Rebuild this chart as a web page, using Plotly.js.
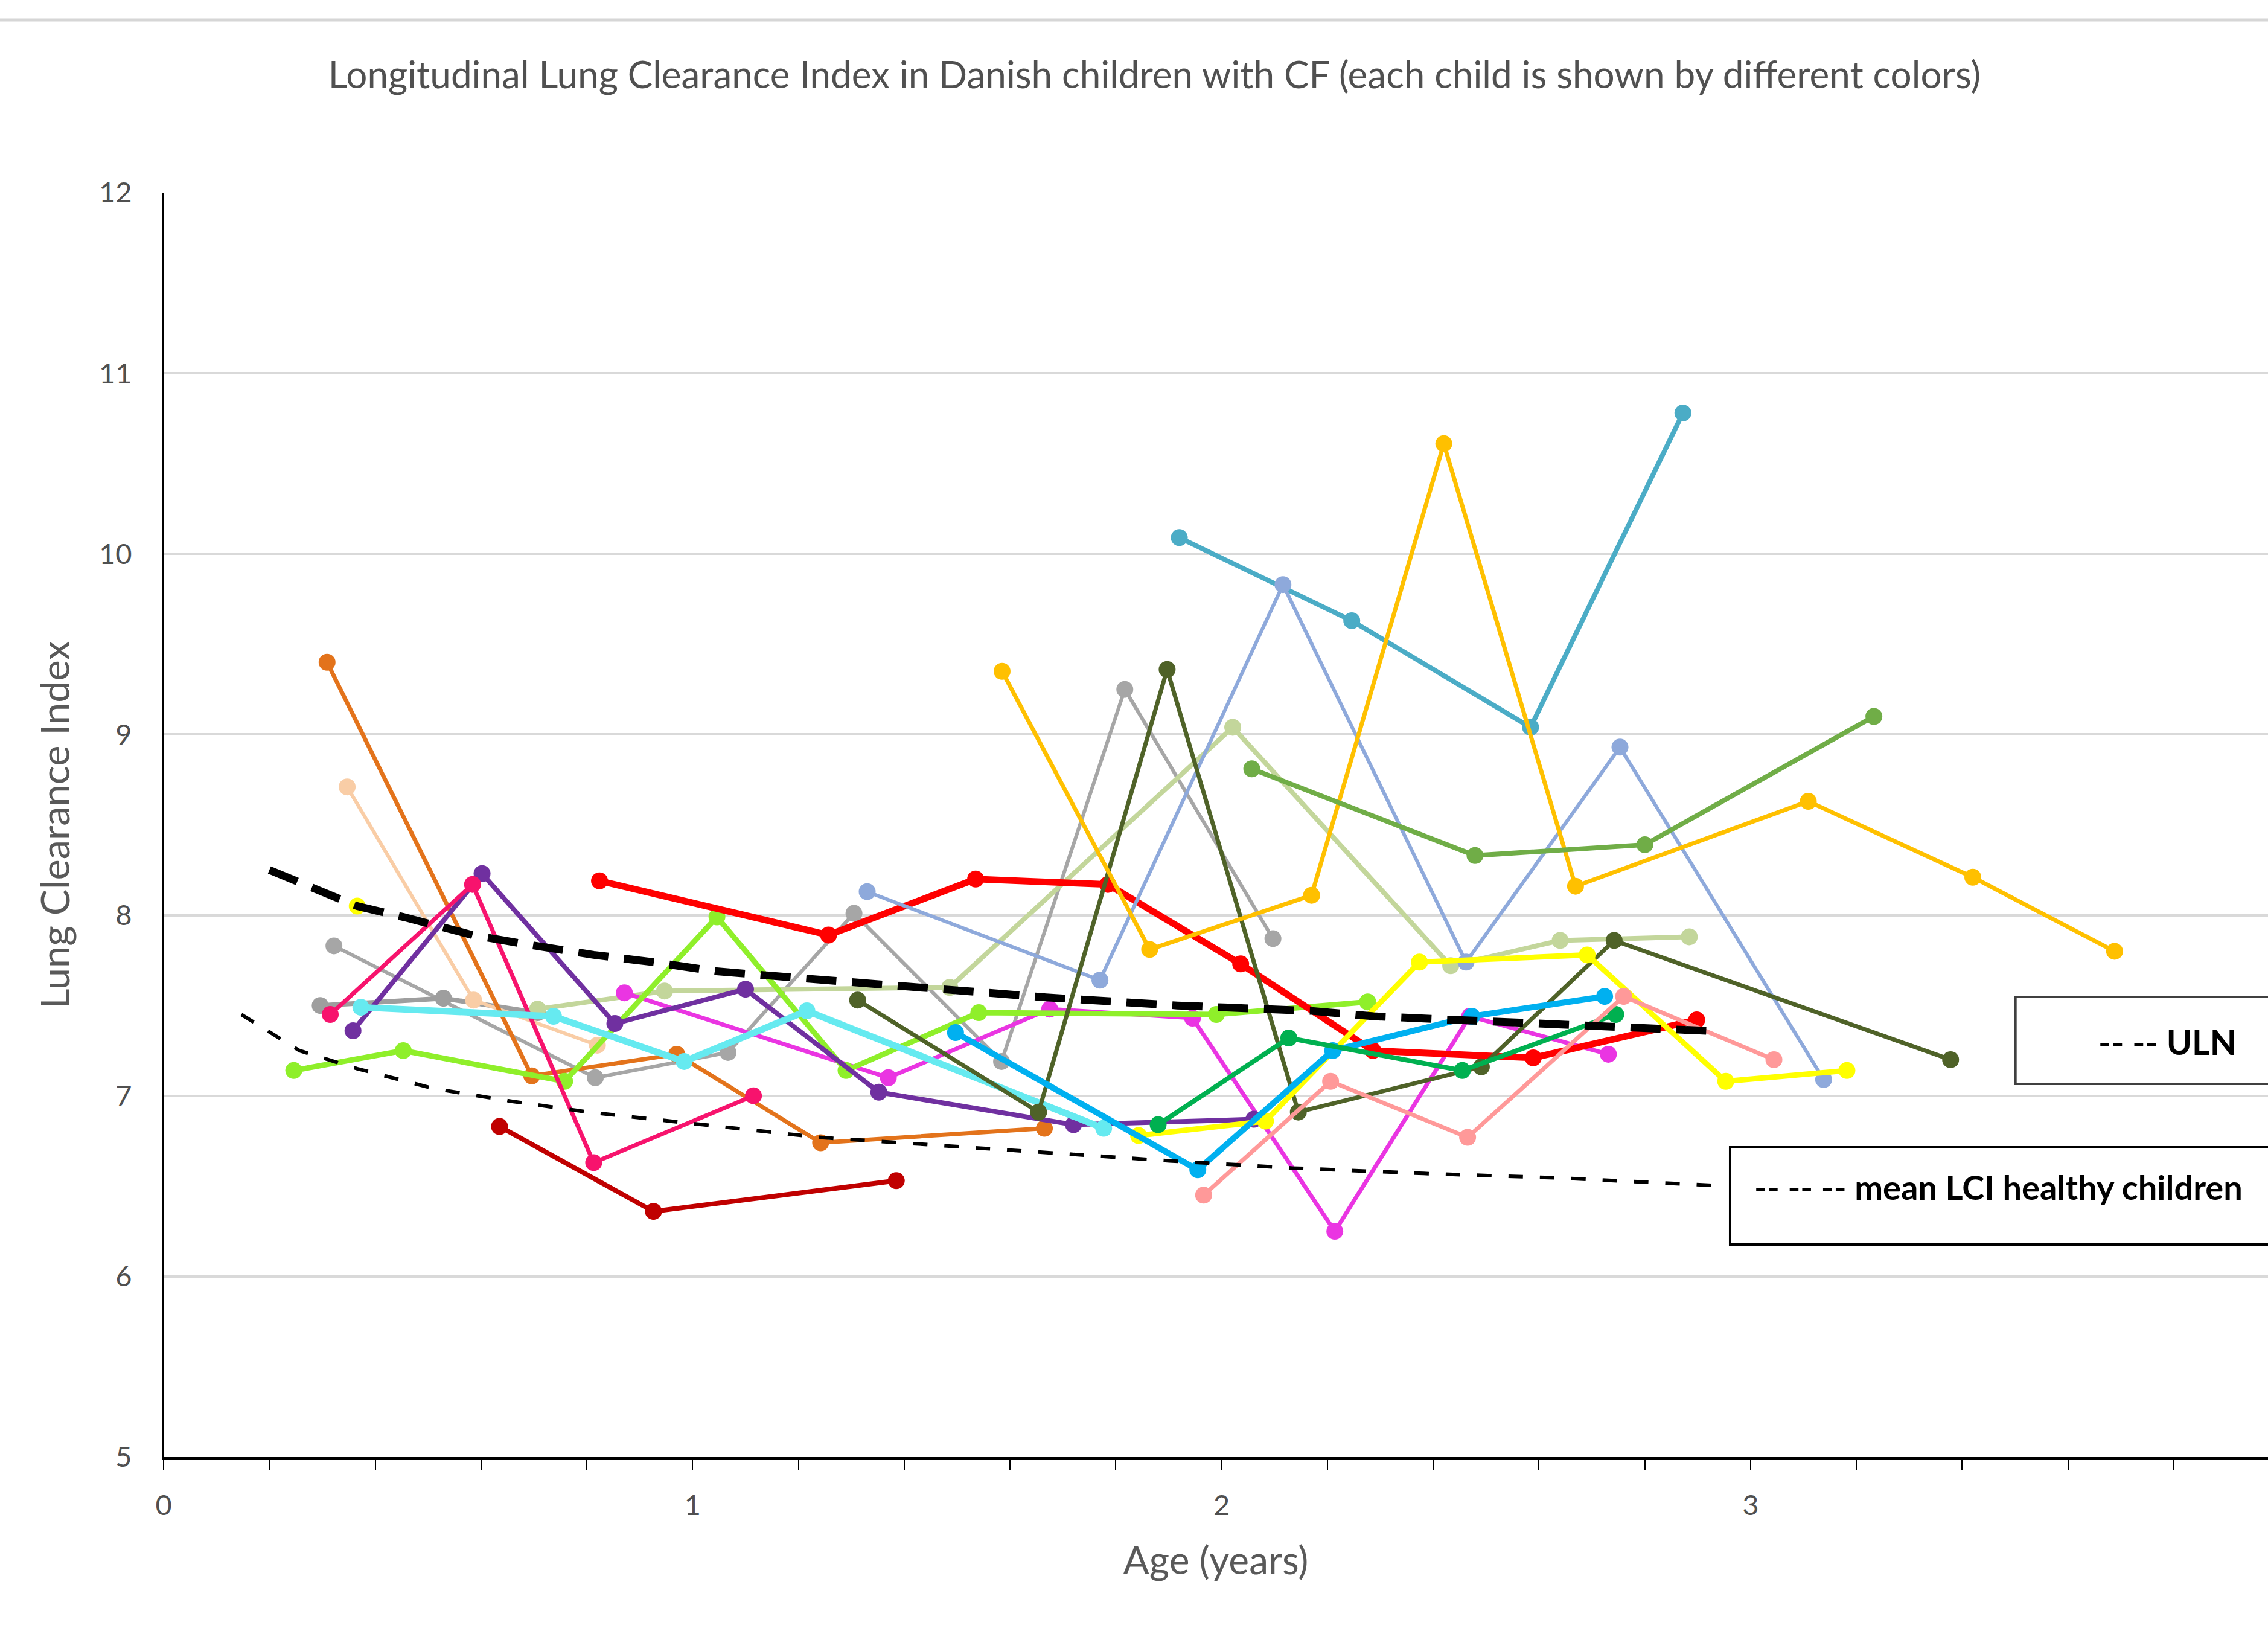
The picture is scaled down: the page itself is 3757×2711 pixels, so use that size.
<!DOCTYPE html>
<html><head><meta charset="utf-8">
<script src="https://cdn.plot.ly/plotly-3.0.1.min.js"></script>
<style>html,body{margin:0;padding:0;background:#fff;}#chart{width:3757px;height:2711px;}</style>
</head><body><div id="chart"></div>
<script>
// ---------- data (age in years, LCI) ----------
const xTickVals = [0, 1, 2, 3];
const yTickVals = [5, 6, 7, 8, 9, 10, 11, 12];

const child01Age = [0.322, 0.816, 1.067, 1.305, 1.584, 1.817, 2.097];
const child01LCI = [7.83, 7.10, 7.24, 8.01, 7.19, 9.25, 7.87];
const child02Age = [0.296, 0.529, 0.707];
const child02LCI = [7.50, 7.54, 7.46];
const child03Age = [0.347, 0.586, 0.820];
const child03LCI = [8.71, 7.53, 7.28];
const child04Age = [0.309, 0.696, 0.970, 1.242, 1.665];
const child04LCI = [9.40, 7.11, 7.23, 6.74, 6.82];
const child05Age = [0.707, 0.947, 1.486, 2.021, 2.433, 2.640, 2.884];
const child05LCI = [7.48, 7.58, 7.60, 9.04, 7.72, 7.86, 7.88];
const child06Age = [0.871, 1.370, 1.675, 1.945, 2.214, 2.469, 2.731];
const child06LCI = [7.57, 7.10, 7.48, 7.43, 6.25, 7.44, 7.23];
const child07Age = [0.246, 0.453, 0.758, 1.046, 1.290, 1.541, 1.990, 2.276];
const child07LCI = [7.14, 7.25, 7.08, 7.99, 7.14, 7.46, 7.45, 7.52];
const child08Age = [0.358, 0.602, 0.853, 1.100, 1.352, 1.720, 2.061];
const child08LCI = [7.36, 8.23, 7.40, 7.59, 7.02, 6.84, 6.87];
const child09Age = [0.315, 0.584, 0.813, 1.115];
const child09LCI = [7.45, 8.17, 6.63, 7.00];
const child10Age = [0.635, 0.926, 1.385];
const child10LCI = [6.83, 6.36, 6.53];
const child11Age = [0.373, 0.737, 0.984, 1.216, 1.777];
const child11LCI = [7.49, 7.44, 7.19, 7.47, 6.82];
const child12Age = [0.824, 1.257, 1.535, 1.785, 2.036, 2.286, 2.589, 2.898];
const child12LCI = [8.19, 7.89, 8.20, 8.17, 7.73, 7.25, 7.21, 7.42];
const child13Age = [1.920, 2.246, 2.584, 2.872];
const child13LCI = [10.09, 9.63, 9.04, 10.78];
const child14Age = [1.330, 1.770, 2.116, 2.462, 2.753, 3.138];
const child14LCI = [8.13, 7.64, 9.83, 7.74, 8.93, 7.09];
const child15Age = [1.312, 1.654, 1.897, 2.145, 2.491, 2.742, 3.378];
const child15LCI = [7.53, 6.91, 9.36, 6.91, 7.16, 7.86, 7.20];
const child16Age = [1.585, 1.864, 2.170, 2.420, 2.669, 3.109, 3.420, 3.688];
const child16LCI = [9.35, 7.81, 8.11, 10.61, 8.16, 8.63, 8.21, 7.80];
const child17Age = [2.057, 2.479, 2.800, 3.233];
const child17LCI = [8.81, 8.33, 8.39, 9.10];
const child18Age = [0.366];
const child18LCI = [8.05];
const child19Age = [1.843, 2.083, 2.374, 2.691, 2.953, 3.182];
const child19LCI = [6.78, 6.86, 7.74, 7.78, 7.08, 7.14];
const child20Age = [1.497, 1.955, 2.210, 2.473, 2.724];
const child20LCI = [7.35, 6.59, 7.25, 7.44, 7.55];
const child21Age = [1.880, 2.127, 2.455, 2.745];
const child21LCI = [6.84, 7.32, 7.14, 7.45];
const child22Age = [1.966, 2.206, 2.465, 2.760, 3.044];
const child22LCI = [6.45, 7.08, 6.77, 7.55, 7.20];

const ulnAge = [0.20, 0.366, 0.453, 0.584, 0.693, 0.813, 0.926, 1.042, 1.188, 1.421, 1.668, 1.916, 2.170, 2.287, 2.542, 2.789, 2.916];
const ulnLCI = [8.25, 8.05, 7.99, 7.89, 7.835, 7.78, 7.74, 7.69, 7.655, 7.60, 7.545, 7.50, 7.47, 7.44, 7.41, 7.38, 7.36];
const healthyAge = [0.147, 0.257, 0.366, 0.511, 0.657, 0.802, 1.020, 1.238, 1.392, 1.639, 1.901, 2.134, 2.382, 2.636, 2.891, 2.956];
const healthyLCI = [7.45, 7.25, 7.15, 7.04, 6.97, 6.91, 6.84, 6.77, 6.74, 6.69, 6.64, 6.60, 6.57, 6.545, 6.51, 6.50];

// ---------- styles ----------
const childSeries = [
  [child01Age, child01LCI, '#A6A6A6', 6],
  [child02Age, child02LCI, '#9E9E9E', 8],
  [child03Age, child03LCI, '#F9CDA6', 6],
  [child04Age, child04LCI, '#E3731B', 7],
  [child05Age, child05LCI, '#C3D69B', 8],
  [child06Age, child06LCI, '#EA35E2', 7],
  [child07Age, child07LCI, '#8FEF2A', 9],
  [child08Age, child08LCI, '#7030A0', 8],
  [child09Age, child09LCI, '#F7136D', 7],
  [child10Age, child10LCI, '#C00000', 8],
  [child11Age, child11LCI, '#66EAF0', 11],
  [child12Age, child12LCI, '#FF0000', 11],
  [child13Age, child13LCI, '#4BACC6', 8],
  [child14Age, child14LCI, '#8EA9DB', 6],
  [child15Age, child15LCI, '#4F6228', 7],
  [child16Age, child16LCI, '#FFC000', 7],
  [child17Age, child17LCI, '#70AD47', 8],
  [child18Age, child18LCI, '#FFFF00', 8],
  [child19Age, child19LCI, '#FFFF00', 9],
  [child20Age, child20LCI, '#00B0F0', 10],
  [child21Age, child21LCI, '#00B050', 8],
  [child22Age, child22LCI, '#FF9999', 7]
];

const traces = childSeries.map(s => ({
  x: s[0], y: s[1], type: 'scatter', mode: 'lines+markers',
  line: {color: s[2], width: s[3]},
  marker: {color: s[2], size: 28, symbol: 'circle'},
  hoverinfo: 'skip'
}));
traces.push({x: healthyAge, y: healthyLCI, type: 'scatter', mode: 'lines',
  line: {color: '#000000', width: 6, dash: '24px,28px'}, hoverinfo: 'skip'});
traces.push({x: ulnAge, y: ulnLCI, type: 'scatter', mode: 'lines',
  line: {color: '#000000', width: 13, dash: '50px,26px'}, hoverinfo: 'skip'});

const FONT = 'Lato, "Open Sans", sans-serif';
const layout = {
  width: 3757, height: 2711,
  margin: {l: 271, r: 0, t: 319, b: 298},
  paper_bgcolor: '#ffffff', plot_bgcolor: '#ffffff',
  showlegend: false, hovermode: false,
  font: {family: FONT, color: '#595959'},
  title: {text: 'Longitudinal Lung Clearance Index in Danish children with CF (each child is shown by different colors)',
    font: {family: FONT, size: 62, color: '#505050'},
    xref: 'container', x: 0.509, xanchor: 'center', yref: 'container', y: 0.954, yanchor: 'middle'},
  xaxis: {range: [0, 3.978], tickvals: xTickVals, ticks: 'outside', ticklen: 17, tickwidth: 2, tickcolor: '#000',
    minor: {dtick: 0.2, tick0: 0, ticks: 'outside', ticklen: 17, tickwidth: 2, tickcolor: '#000', showgrid: false},
    showgrid: false, zeroline: false, showline: true, linecolor: '#000', linewidth: 5,
    tickfont: {family: FONT, size: 47, color: '#505050'}, ticklabelstandoff: 18,
    title: {text: 'Age (years)', font: {family: FONT, size: 64, color: '#595959'}, standoff: 45}},
  yaxis: {range: [5, 12], tickvals: yTickVals, ticks: '', showgrid: true, gridcolor: '#D9D9D9', gridwidth: 4,
    zeroline: false, showline: true, linecolor: '#000', linewidth: 3,
    tickfont: {family: FONT, size: 47, color: '#505050'}, ticklabelstandoff: 40,
    title: {text: 'Lung Clearance Index', font: {family: FONT, size: 65, color: '#595959'}, standoff: 28}},
  shapes: [
    {type: 'line', xref: 'paper', yref: 'paper', x0: -0.08, x1: 1.0, y0: 1.1366, y1: 1.1366, line: {color: '#D6D6D6', width: 5}},
    {type: 'rect', xref: 'paper', yref: 'y', x0: 0.880, x1: 1.02, y0: 7.066, y1: 7.547, fillcolor: '#ffffff', line: {color: '#404040', width: 4}, layer: 'above'},
    {type: 'rect', xref: 'paper', yref: 'y', x0: 0.7444, x1: 1.02, y0: 6.177, y1: 6.715, fillcolor: '#ffffff', line: {color: '#000000', width: 4}, layer: 'above'}
  ],
  annotations: [
    {xref: 'paper', yref: 'y', x: 0.9188, y: 7.30, xanchor: 'left', yanchor: 'middle', showarrow: false,
      text: '<b>-- -- ULN</b>', font: {family: FONT, size: 57, color: '#000'}},
    {xref: 'paper', yref: 'y', x: 0.7553, y: 6.497, xanchor: 'left', yanchor: 'middle', showarrow: false,
      text: '<b>-- -- -- mean LCI healthy children</b>', font: {family: FONT, size: 56, color: '#000'}}
  ]
};
Plotly.newPlot('chart', traces, layout, {staticPlot: true, displayModeBar: false});
</script>
</body></html>
